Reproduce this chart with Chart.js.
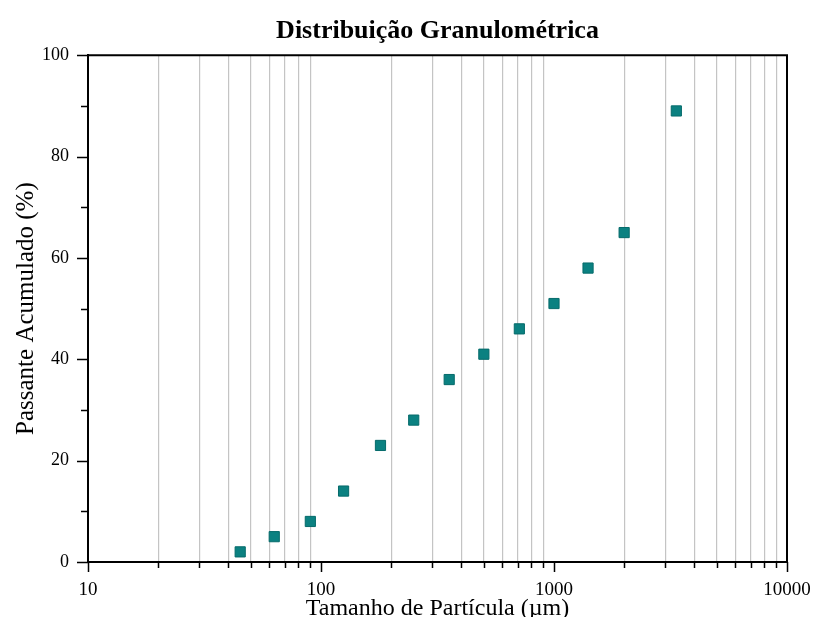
<!DOCTYPE html>
<html>
<head>
<meta charset="utf-8">
<script src="https://cdn.jsdelivr.net/npm/chart.js@4.4.1/dist/chart.umd.min.js"></script>
<style>
html,body{margin:0;padding:0;background:#fff;overflow:hidden;}
#wrap{width:813px;height:617px;position:relative;}
</style>
</head>
<body>
<div id="wrap"><canvas id="c" width="813" height="617"></canvas></div>
<script>
// Data
const particleSize = [45, 63, 90, 125, 180, 250, 355, 500, 710, 1000, 1400, 2000, 3350]; // µm
const passing = [2, 5, 8, 14, 23, 28, 36, 41, 46, 51, 58, 65, 89]; // %
const xTickValues = [10,20,30,40,50,60,70,80,90,100,200,300,400,500,600,700,800,900,1000,2000,3000,4000,5000,6000,7000,8000,9000,10000];
const xTickLabels = ['10','100','1000','10000'];
const yTickValues = [0,10,20,30,40,50,60,70,80,90,100];
const yTickLabels = ['0','20','40','60','80','100'];

const FONT = "'Liberation Serif', 'Times New Roman', serif";
const isMajorX = v => xTickLabels.includes(String(v));
const isMajorY = v => yTickLabels.includes(String(v));

const framePlugin = {
  id: 'frame',
  afterDraw(chart) {
    const {ctx, chartArea: a, scales} = chart;
    ctx.save();
    ctx.strokeStyle = '#000';
    ctx.lineWidth = 2;
    ctx.beginPath();
    ctx.moveTo(a.left, a.top); ctx.lineTo(a.right, a.top); ctx.lineTo(a.right, a.bottom);
    ctx.stroke();
    ctx.lineWidth = 1.5;
    ctx.beginPath();
    scales.x.ticks.forEach(t => {
      const px = Math.round(scales.x.getPixelForValue(t.value)) + 0.5;
      const len = isMajorX(t.value) ? 10 : 6;
      ctx.moveTo(px, a.bottom); ctx.lineTo(px, a.bottom + len);
    });
    scales.y.ticks.forEach(t => {
      const py = Math.round(scales.y.getPixelForValue(t.value)) + 0.5;
      const len = isMajorY(t.value) ? 11 : 7;
      ctx.moveTo(a.left, py); ctx.lineTo(a.left - len, py);
    });
    ctx.stroke();
    ctx.restore();
  }
};

new Chart(document.getElementById('c'), {
  type: 'scatter',
  data: {
    datasets: [{
      label: 'Passante Acumulado',
      data: particleSize.map((s, i) => ({x: s, y: passing[i]})),
      pointStyle: 'rect',
      pointRadius: 7.2,
      pointHoverRadius: 7.2,
      backgroundColor: '#0b8181',
      borderColor: '#066b6b',
      borderWidth: 1
    }]
  },
  options: {
    responsive: false,
    animation: false,
    events: [],
    layout: {padding: {left: 0, right: 26, top: 0, bottom: 0}},
    plugins: {
      legend: {display: false},
      tooltip: {enabled: false},
      title: {
        display: true,
        text: 'Distribuição Granulométrica',
        fullSize: false,
        color: '#000',
        font: {family: FONT, size: 26, weight: 'bold', lineHeight: 1.2},
        padding: {top: 16, bottom: 8}
      }
    },
    scales: {
      x: {
        type: 'logarithmic',
        min: 10, max: 10000,
        afterBuildTicks: s => { s.ticks = xTickValues.map(v => ({value: v})); },
        afterFit: s => { s.height = 55; s.paddingRight = 0; s.paddingLeft = 0; },
        ticks: {
          autoSkip: false, maxRotation: 0, minRotation: 0,
          color: '#000', padding: 7,
          font: {family: FONT, size: 19},
          callback: v => isMajorX(v) ? String(v) : ''
        },
        grid: {
          display: true,
          drawTicks: true,
          tickLength: 10,
          tickColor: 'rgba(0,0,0,0)',
          lineWidth: 1.2,
          color: c => (c.tick && isMajorX(c.tick.value)) ? 'rgba(0,0,0,0)' : '#c4c4c4'
        },
        border: {display: true, color: '#000', width: 2},
        title: {
          display: true,
          text: 'Tamanho de Partícula (µm)',
          color: '#000',
          font: {family: FONT, size: 24, lineHeight: 1},
          padding: {top: 0, bottom: -4}
        }
      },
      y: {
        type: 'linear',
        min: 0, max: 100,
        afterBuildTicks: s => { s.ticks = yTickValues.map(v => ({value: v})); },
        afterFit: s => { s.width = 88; },
        ticks: {
          autoSkip: false,
          color: '#000', padding: 8,
          font: {family: FONT, size: 18},
          callback: v => isMajorY(v) ? String(v) : ''
        },
        grid: {
          display: true,
          drawOnChartArea: false,
          drawTicks: true,
          tickLength: 11,
          tickColor: 'rgba(0,0,0,0)'
        },
        border: {display: true, color: '#000', width: 2},
        title: {
          display: true,
          text: 'Passante Acumulado (%)',
          color: '#000',
          font: {family: FONT, size: 25, lineHeight: 1},
          padding: {top: 13.5, bottom: 0}
        }
      }
    }
  },
  plugins: [framePlugin]
});
</script>
</body>
</html>
